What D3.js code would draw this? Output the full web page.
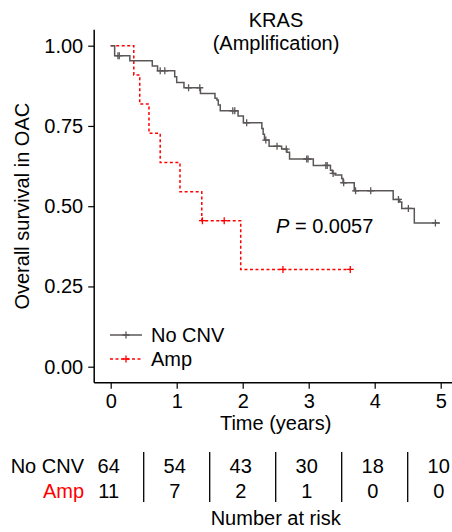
<!DOCTYPE html>
<html>
<head>
<meta charset="utf-8">
<script src="https://cdn.jsdelivr.net/npm/d3@7"></script>
<style>
  body { margin: 0; background: #fff; }
  text { font-family: "Liberation Sans", Arial, sans-serif; }
</style>
</head>
<body>
<div id="km"></div>
<script>
// Kaplan-Meier steps (time in years, survival)
const noCnvTime = [0, 0.06, 0.29, 0.63, 0.71, 0.97, 1.00, 1.11, 1.36, 1.58, 1.61, 1.63, 1.66, 1.93, 2.01,
    2.29, 2.31, 2.33, 2.40, 2.59, 2.67, 2.71, 3.07, 3.33, 3.36, 3.40, 3.50, 3.52, 3.69, 4.28, 4.38, 4.41, 4.60, 4.99];
const noCnvSurv = [1, 0.969, 0.953, 0.937, 0.922, 0.903, 0.885, 0.869, 0.851, 0.836, 0.831, 0.815, 0.797, 0.781, 0.760,
    0.742, 0.724, 0.706, 0.687, 0.678, 0.668, 0.647, 0.627, 0.612, 0.602, 0.597, 0.586, 0.573, 0.548, 0.521, 0.513, 0.493, 0.448, 0.448];
const noCnvCensor = [0.11, 0.13, 0.75, 0.82, 1.18, 1.35, 1.85, 1.88, 2.06, 2.35, 2.52, 2.66, 2.97, 2.99,
    3.26, 3.28, 3.37, 3.53, 3.71, 3.94, 4.36, 4.51, 4.92];

const ampTime = [0, 0.35, 0.44, 0.58, 0.75, 1.05, 1.38, 1.97, 3.63];
const ampSurv = [1, 0.909, 0.818, 0.727, 0.636, 0.545, 0.455, 0.303, 0.303];
const ampCensor = [1.39, 1.72, 2.61, 3.63];

const xTicks = [0, 1, 2, 3, 4, 5];
const yTicks = [0, 0.25, 0.5, 0.75, 1];

const groups = ["No CNV", "Amp"];
const riskNoCnv = [64, 54, 43, 30, 18, 10];
const riskAmp = [11, 7, 2, 1, 0, 0];

const W = 452, H = 532;
const grey = "#5b5757", red = "#ff0000";

const svg = d3.select("#km").append("svg")
    .attr("width", W).attr("height", H);

// Scales (panel has 5% padding like ggplot)
const x = d3.scaleLinear().domain([0, 5]).range([110.7, 440.7]);
const y = d3.scaleLinear().domain([0, 1]).range([366.7, 45.7]);

const fs = 20;

// Axes
const xAxis = svg.append("g")
    .attr("transform", `translate(0,${y(-0.05)})`)
    .call(d3.axisBottom(x).tickValues(xTicks).tickSize(6).tickPadding(5).tickFormat(d3.format("d")));
const yAxis = svg.append("g")
    .attr("transform", `translate(${x(-0.25)},0)`)
    .call(d3.axisLeft(y).tickValues(yTicks).tickSize(6).tickPadding(5).tickFormat(d3.format(".2f")));
[xAxis, yAxis].forEach(a => {
    a.select(".domain").remove();
    a.selectAll(".tick line").attr("stroke", "#000").attr("stroke-width", 1.2);
    a.selectAll(".tick text").attr("fill", "#000").style("font-size", fs + "px")
        .style("font-family", "'Liberation Sans', Arial, sans-serif");
});
svg.append("line")
    .attr("x1", x(-0.25)).attr("x2", W)
    .attr("y1", y(-0.05)).attr("y2", y(-0.05))
    .attr("stroke", "#000").attr("stroke-width", 1.5);
svg.append("line")
    .attr("x1", x(-0.25)).attr("x2", x(-0.25))
    .attr("y1", y(1.05)).attr("y2", y(-0.05))
    .attr("stroke", "#000").attr("stroke-width", 1.5);

// Survival curves
const line = d3.line()
    .x(d => x(d[0]))
    .y(d => y(d[1]))
    .curve(d3.curveStepAfter);

function survAt(times, surv, t) {
    let s = surv[0];
    for (let i = 0; i < times.length; i++) {
        if (times[i] <= t) s = surv[i];
    }
    return s;
}

function drawCurve(times, surv, censor, color, dash) {
    svg.append("path")
        .datum(d3.zip(times, surv))
        .attr("fill", "none")
        .attr("stroke", color)
        .attr("stroke-width", 1.5)
        .attr("stroke-dasharray", dash)
        .attr("d", line);
    const c = svg.append("g");
    censor.forEach(t => {
        const cx = x(t), cy = y(survAt(times, surv, t));
        c.append("path")
            .attr("d", `M${cx - 3.5},${cy}H${cx + 3.5}M${cx},${cy - 3.5}V${cy + 3.5}`)
            .attr("stroke", color).attr("stroke-width", 1.3);
    });
}

drawCurve(ampTime, ampSurv, ampCensor, red, "3,2.5");
drawCurve(noCnvTime, noCnvSurv, noCnvCensor, grey, null);

// Titles
svg.append("text").attr("x", 276).attr("y", 27).attr("text-anchor", "middle")
    .style("font-size", "20px").text("KRAS");
svg.append("text").attr("x", 276).attr("y", 50).attr("text-anchor", "middle")
    .style("font-size", "20px").text("(Amplification)");

svg.append("text")
    .attr("transform", `translate(29,${y(0.5)}) rotate(-90)`)
    .attr("text-anchor", "middle")
    .style("font-size", "20px")
    .text("Overall survival in OAC");

svg.append("text").attr("x", x(2.5)).attr("y", 430).attr("text-anchor", "middle")
    .style("font-size", fs + "px").text("Time (years)");

// P value
const pText = svg.append("text").attr("x", 276).attr("y", 233).style("font-size", "20px");
pText.append("tspan").style("font-style", "italic").text("P");
pText.append("tspan").text(" = 0.0057");

// Legend
const legend = svg.append("g");
[[grey, null], [red, "3,2.5"]].forEach(([color, dash], i) => {
    const ly = 335 + i * 24;
    legend.append("line").attr("x1", 110).attr("x2", 142).attr("y1", ly).attr("y2", ly)
        .attr("stroke", color).attr("stroke-width", 1.5).attr("stroke-dasharray", dash);
    legend.append("path").attr("d", `M122.5,${ly}H129.5M126,${ly - 3.5}V${ly + 3.5}`)
        .attr("stroke", color).attr("stroke-width", 1.3);
    legend.append("text").attr("x", 151).attr("y", ly + 7)
        .style("font-size", fs + "px").text(groups[i]);
});

// Number at risk table
const rows = [riskNoCnv, riskAmp];
rows.forEach((vals, r) => {
    const ty = 473 + r * 25;
    svg.append("text").attr("x", 84).attr("y", ty).attr("text-anchor", "end")
        .attr("fill", r === 0 ? "#000" : red)
        .style("font-size", fs + "px").text(groups[r]);
    vals.forEach((v, i) => {
        svg.append("text").attr("x", x(xTicks[i]) - 2).attr("y", ty).attr("text-anchor", "middle")
            .style("font-size", fs + "px").text(v);
    });
});
xTicks.slice(0, -1).forEach(t => {
    const sx = x(t + 0.5);
    svg.append("line").attr("x1", sx).attr("x2", sx).attr("y1", 452).attr("y2", 502)
        .attr("stroke", "#000").attr("stroke-width", 1.3);
});
svg.append("text").attr("x", x(2.5)).attr("y", 525).attr("text-anchor", "middle")
    .style("font-size", fs + "px").text("Number at risk");
</script>
</body>
</html>
